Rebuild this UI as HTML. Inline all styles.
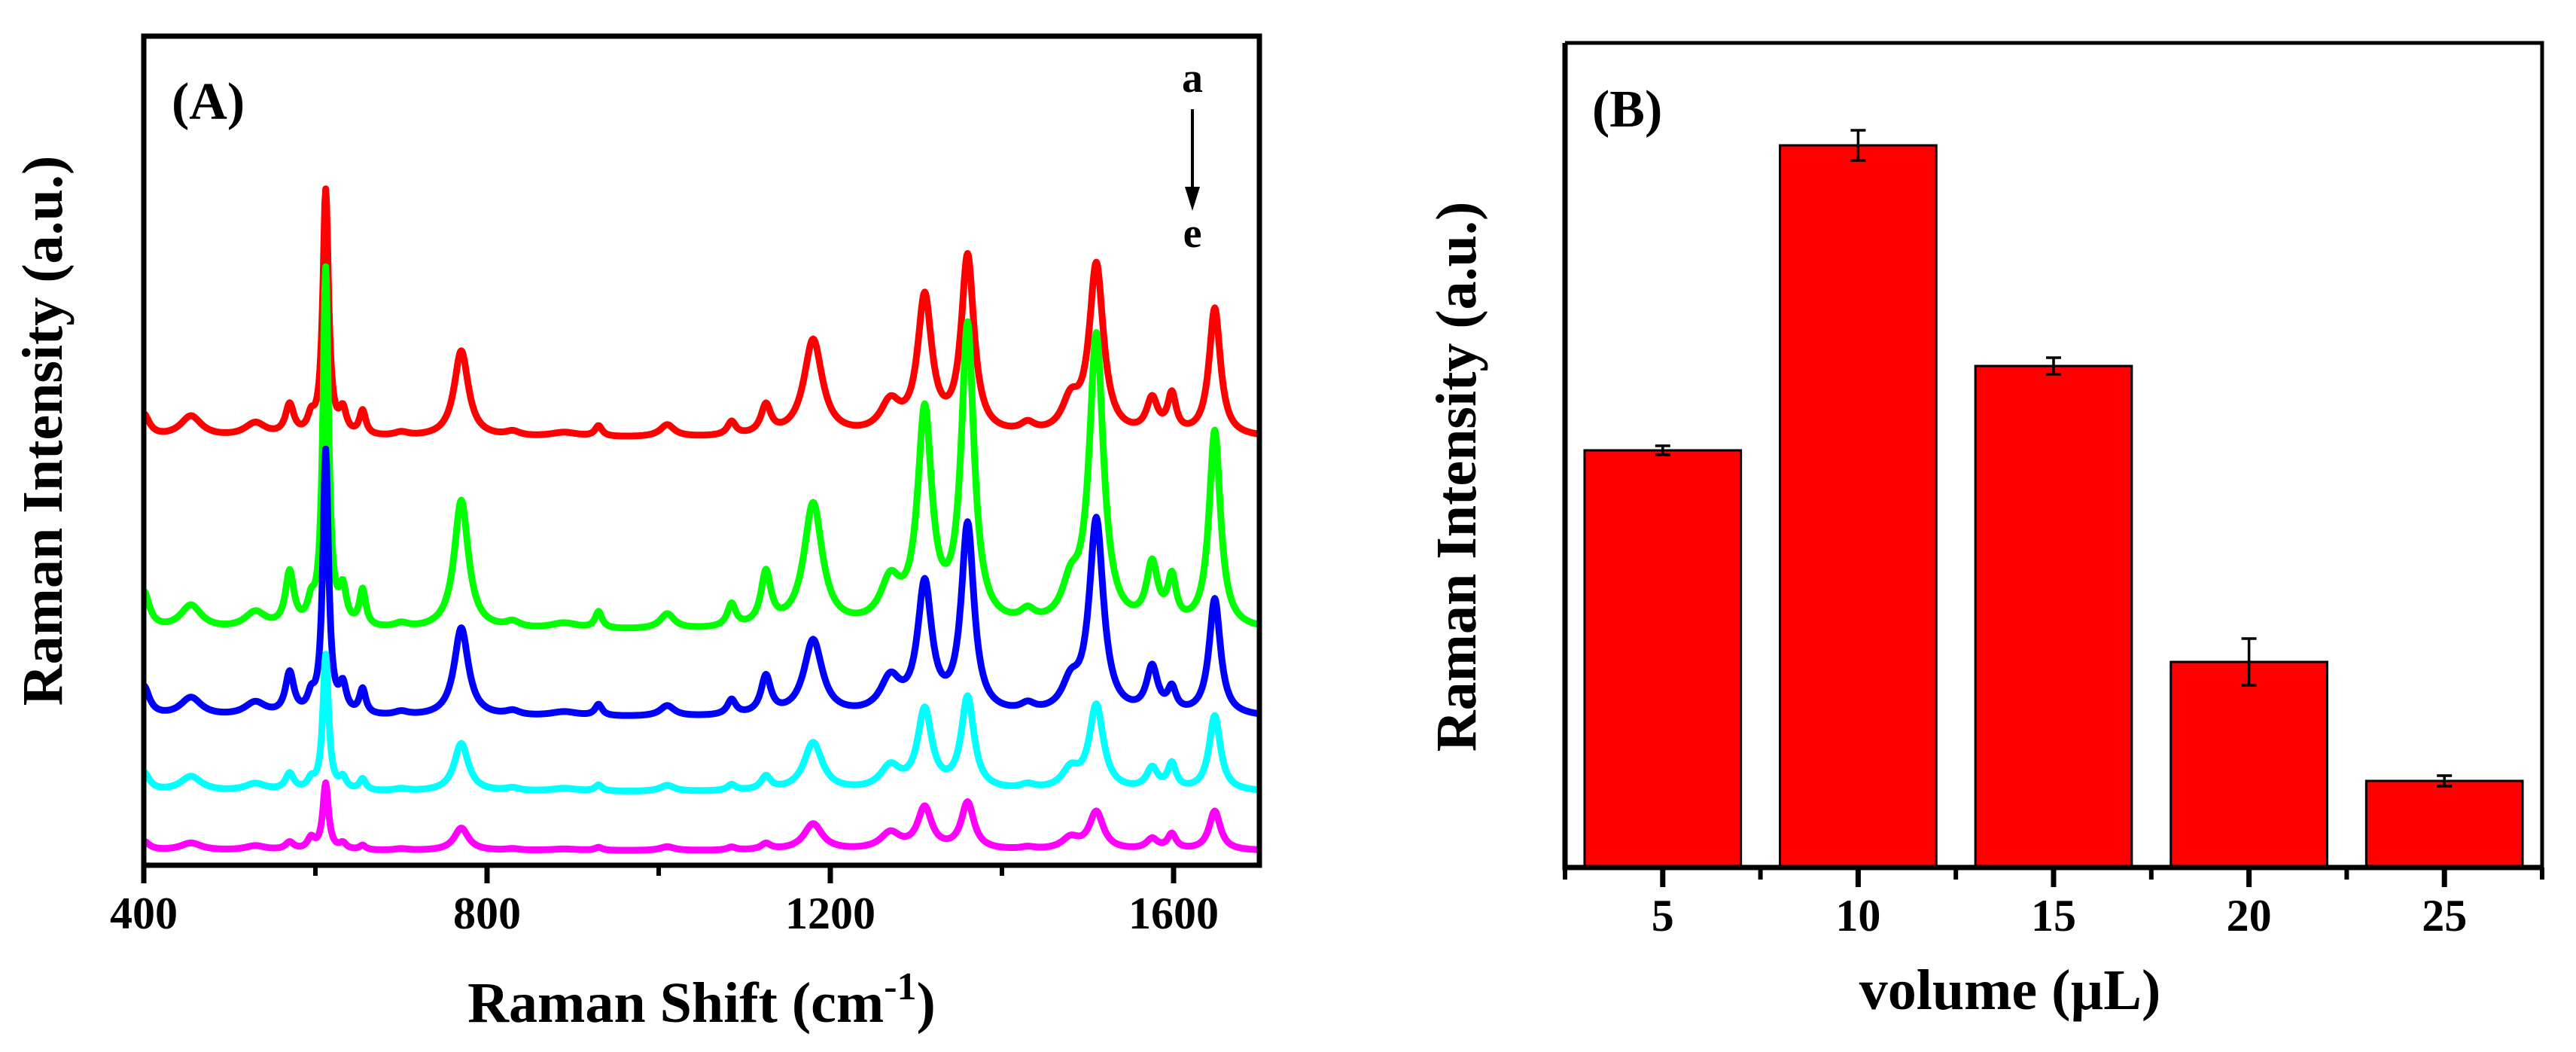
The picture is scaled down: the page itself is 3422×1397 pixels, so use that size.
<!DOCTYPE html>
<html><head><meta charset="utf-8"><style>
html,body{margin:0;padding:0;background:#fff;}
svg{display:block;}
text{font-family:"Liberation Serif",serif;font-weight:bold;fill:#000;}
</style></head><body>
<svg id="fig" width="3422" height="1397" viewBox="0 0 3422 1397" xmlns="http://www.w3.org/2000/svg">
<defs><clipPath id="clipA"><rect x="191" y="48" width="1482" height="1101"/></clipPath></defs>
<g id="panelA"></g>
<g id="panelB"></g>
</svg>
<script>
// ---------- Panel A data ----------
const peakPositions = [400,455,530,570,595,612,632,655,700,770,830,890,930,1010,1085,1125,1180,1270,1310,1360,1430,1480,1510,1575,1598,1648];
const peakWidths    = [8,15,15,6,5,4,5,4.5,10,10,10,20,5,10,6,7,13,14,10,9,10,12,10,8,6,8];
const ampA = [30,28,18,40,20,325,30,32,5,115,6,6,14,16,18,38,128,40,180,235,12,40,225,45,50,170];
const ampB = [50,32,22,72,25,475,45,48,6,172,8,8,22,20,30,70,165,55,280,395,15,45,385,78,58,262];
const ampC = [40,25,18,55,20,350,35,33,5,118,6,6,15,14,20,50,100,45,170,250,10,35,258,60,30,155];
const ampD = [25,20,10,22,12,180,15,15,3,64,4,4,8,8,8,18,64,30,105,122,6,25,112,28,33,100];
const ampE = [12,10,6,10,15,88,8,6,2,30,2,2,4,5,4,8,35,22,55,62,3,15,50,14,20,52];
const seriesOffsets = [567,311,196,97,19];
const seriesColors = ["#ff0000","#00ff00","#0000ff","#00ffff","#ff00ff"];
const seriesLabels = ["a","b","c","d","e"];
const xTicksA = [400,800,1200,1600];
const xMinorA = [600,1000,1400];

// ---------- Panel B data ----------
const volumes = [5,10,15,20,25];
const intensities = [554,959,666,273,115];
const errors = [6,20,11,31,7];

const NS = "http://www.w3.org/2000/svg";
function mk(tag, attrs, parent, txt){
  const e = document.createElementNS(NS, tag);
  for (const k in attrs) e.setAttribute(k, attrs[k]);
  if (txt !== undefined) e.textContent = txt;
  parent.appendChild(e);
  return e;
}

// ---------- Panel A ----------
const gA = document.getElementById("panelA");
const A = {x0:191, x1:1673, y0:1149, y1:48, xmin:400, xmax:1700, ymin:0, ymax:1101};
const xA = v => A.x0 + (v - A.xmin) / (A.xmax - A.xmin) * (A.x1 - A.x0);
const yA = v => A.y0 - (v - A.ymin) / (A.ymax - A.ymin) * (A.y0 - A.y1);
const allAmps = [ampA, ampB, ampC, ampD, ampE];
const gLines = mk("g", {"clip-path":"url(#clipA)"}, gA);
allAmps.forEach((amps, si) => {
  let d = "";
  for (let w = A.xmin; w <= A.xmax; w += 1) {
    let s = seriesOffsets[si];
    for (let k = 0; k < peakPositions.length; k++) {
      const g = peakWidths[k];
      const dx = w - peakPositions[k];
      s += amps[k] * g * g / (dx * dx + g * g);
    }
    d += (w === A.xmin ? "M" : "L") + xA(w).toFixed(1) + "," + yA(s).toFixed(1);
  }
  const p = mk("path", {d:d, fill:"none", stroke:seriesColors[si], "stroke-width":9, "stroke-linejoin":"round"}, gLines);
  
  
});
const frameA = mk("rect", {x:A.x0, y:A.y1, width:A.x1-A.x0, height:A.y0-A.y1, fill:"none", stroke:"#000", "stroke-width":7}, gA);


xTicksA.forEach(t => {
  const tk = mk("line", {x1:xA(t), x2:xA(t), y1:A.y0, y2:A.y0+24, stroke:"#000", "stroke-width":7}, gA);
  
  
  const lb = mk("text", {x:xA(t), y:A.y0+84, "text-anchor":"middle", "font-size":60}, gA, String(t));
  
  
});
xMinorA.forEach(t => {
  const tk = mk("line", {x1:xA(t), x2:xA(t), y1:A.y0, y2:A.y0+14, stroke:"#000", "stroke-width":6}, gA);
  
  
});
</script>
<script>
(function(){
const gA = document.getElementById("panelA");
function mk(tag, attrs, parent, txt){
  const e = document.createElementNS("http://www.w3.org/2000/svg", tag);
  for (const k in attrs) e.setAttribute(k, attrs[k]);
  if (txt !== undefined) e.textContent = txt;
  parent.appendChild(e);
  return e;
}
let t = mk("text", {x:932, y:1357, "text-anchor":"middle", "font-size":76}, gA);


t.innerHTML = 'Raman Shift (cm<tspan dy="-30" font-size="52">-1</tspan><tspan dy="30">)</tspan>';
t = mk("text", {x:0, y:0, "text-anchor":"middle", "font-size":76, transform:"translate(82,572) rotate(-90)"}, gA, "Raman Intensity (a.u.)");


t = mk("text", {x:228, y:158, "font-size":70}, gA, "(A)");


t = mk("text", {x:1584, y:122, "text-anchor":"middle", "font-size":56}, gA, "a");


t = mk("text", {x:1584, y:328, "text-anchor":"middle", "font-size":56}, gA, "e");


t = mk("line", {x1:1584, y1:145, x2:1584, y2:255, stroke:"#000", "stroke-width":4}, gA);


t = mk("polygon", {points:"1574,248 1594,248 1584,280", fill:"#000"}, gA);


})();
</script>
<script>
// ---------- Panel B ----------
(function(){
const gB = document.getElementById("panelB");
const NS = "http://www.w3.org/2000/svg";
function mk(tag, attrs, parent, txt){
  const e = document.createElementNS(NS, tag);
  for (const k in attrs) e.setAttribute(k, attrs[k]);
  if (txt !== undefined) e.textContent = txt;
  parent.appendChild(e);
  return e;
}
const B = {x0:2079, x1:3377, y0:1152, y1:57, xmin:2.5, xmax:27.5, ymin:0, ymax:1095};
const xB = v => B.x0 + (v - B.xmin) / (B.xmax - B.xmin) * (B.x1 - B.x0);
const yB = v => B.y0 - (v - B.ymin) / (B.ymax - B.ymin) * (B.y0 - B.y1);
const barHalf = 2;
volumes.forEach((v, i) => {
  const r = mk("rect", {x:xB(v-barHalf), y:yB(intensities[i]), width:xB(v+barHalf)-xB(v-barHalf), height:yB(0)-yB(intensities[i]), fill:"#ff0000", stroke:"#000", "stroke-width":3}, gB);
  
  
  const top = yB(intensities[i] + errors[i]), bot = yB(intensities[i] - errors[i]), cx = xB(v);
  const e = mk("path", {d:`M${cx},${top}L${cx},${bot}M${cx-10},${top}L${cx+10},${top}M${cx-10},${bot}L${cx+10},${bot}`, stroke:"#000", "stroke-width":3.5, fill:"none"}, gB);
  
  
  const tk = mk("line", {x1:cx, x2:cx, y1:B.y0, y2:B.y0+26, stroke:"#000", "stroke-width":7}, gB);
  
  
  const lb = mk("text", {x:cx, y:B.y0+84, "text-anchor":"middle", "font-size":60}, gB, String(v));
  
  
});
for (let m = 2.5; m <= 27.5; m += 5) {
  const tk = mk("line", {x1:xB(m), x2:xB(m), y1:B.y0, y2:B.y0+16, stroke:"#000", "stroke-width":6}, gB);
  
  
}
let f = mk("path", {d:`M${B.x0},${B.y1}L${B.x1},${B.y1}L${B.x1},${B.y0}`, fill:"none", stroke:"#000", "stroke-width":5}, gB);


f = mk("path", {d:`M${B.x0},${B.y1}L${B.x0},${B.y0}L${B.x1},${B.y0}`, fill:"none", stroke:"#000", "stroke-width":7}, gB);


let t = mk("text", {x:2670, y:1340, "text-anchor":"middle", "font-size":76}, gB, "volume (\u00b5L)");


t = mk("text", {x:0, y:0, "text-anchor":"middle", "font-size":76, transform:"translate(1960,633) rotate(-90)"}, gB, "Raman Intensity (a.u.)");


t = mk("text", {x:2115, y:168, "font-size":70}, gB, "(B)");


})();
</script>
</body></html>
